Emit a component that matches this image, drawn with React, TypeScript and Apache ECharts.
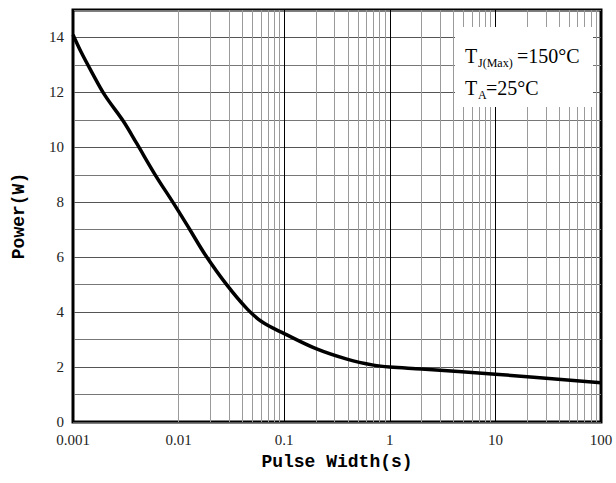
import React, { useEffect, useRef } from "react";
import * as echarts from "echarts";

const pulseWidth = [0.001, 0.0012, 0.0015, 0.002, 0.003, 0.004, 0.006, 0.009, 0.0128, 0.0178, 0.0285, 0.045, 0.063, 0.1, 0.2, 0.4, 0.7, 1, 2, 10, 100];
const power = [14.1, 13.45, 12.75, 11.9, 10.95, 10.15, 9.0, 7.95, 7.0, 6.1, 5.0, 4.1, 3.62, 3.22, 2.67, 2.28, 2.07, 2.0, 1.93, 1.74, 1.43];
const xTickLabels = ["0.001", "0.01", "0.1", "1", "10", "100"];
const minorMultipliers = [2, 3, 4, 5, 6, 7, 8, 9];
const decades = [0.001, 0.01, 0.1, 1, 10];

export default function App() {
  const ref = useRef<HTMLDivElement>(null);
  useEffect(() => {
    if (!ref.current) return;
    const chart = echarts.init(ref.current, null, { renderer: "svg" });
    const minorLines: any[] = [];
    decades.forEach((d) => minorMultipliers.forEach((m) => minorLines.push({ xAxis: +(d * m).toPrecision(3) })));
    const curve = pulseWidth.map((x, i) => [x, power[i]]);
    chart.setOption({
      animation: false,
      grid: { left: 73, right: 15, top: 10, bottom: 61, show: true, borderColor: "#000", borderWidth: 3, backgroundColor: "#fff" },
      xAxis: {
        type: "log",
        logBase: 10,
        min: 0.001,
        max: 100,
        name: "Pulse Width(s)",
        nameLocation: "middle",
        nameGap: 31,
        nameTextStyle: { fontFamily: "Liberation Mono", fontWeight: "bold", fontSize: 18, color: "#000" },
        axisLine: { show: false },
        axisTick: { show: false },
        axisLabel: {
          margin: 10,
          fontFamily: "Liberation Serif",
          fontSize: 15,
          color: "#222",
          formatter: (v: number) => xTickLabels[Math.round(Math.log10(v)) + 3] ?? "",
        },
        splitLine: { show: true, lineStyle: { color: "#000", width: 1 } },
      },
      yAxis: {
        type: "value",
        min: 0,
        max: 15,
        interval: 1,
        name: "Power(W)",
        nameLocation: "middle",
        nameRotate: 90,
        nameGap: 45,
        nameTextStyle: { fontFamily: "Liberation Mono", fontWeight: "bold", fontSize: 18, color: "#000" },
        axisLine: { show: false },
        axisTick: { show: false },
        axisLabel: {
          margin: 9,
          fontFamily: "Liberation Serif",
          fontSize: 15,
          color: "#222",
          formatter: (v: number) => (v % 2 === 0 && v < 15 ? String(v) : ""),
        },
        splitLine: { show: true, lineStyle: { color: ["#555", "#777"], width: 1 } },
      },
      series: [
        {
          type: "line",
          data: curve,
          z: 1,
          showSymbol: false,
          silent: true,
          lineStyle: { opacity: 0 },
          markLine: {
            silent: true,
            symbol: ["none", "none"],
            label: { show: false },
            lineStyle: { color: "#9a9a9a", width: 1, type: "solid" },
            data: minorLines,
          },
        },
        {
          type: "line",
          data: curve,
          z: 5,
          smooth: 0.35,
          showSymbol: false,
          lineStyle: { color: "#000", width: 3.5 },
        },
      ],
      graphic: [
        { type: "rect", z: 100, shape: { x: 455, y: 27, width: 138, height: 80 }, style: { fill: "#fff" } },
        { type: "text", z: 101, x: 465, y: 56, style: { text: "T", fontFamily: "Liberation Serif", fontSize: 20, fill: "#000", verticalAlign: "middle" } },
        { type: "text", z: 101, x: 478, y: 63, style: { text: "J(Max)", fontFamily: "Liberation Serif", fontSize: 12, fill: "#000", verticalAlign: "middle" } },
        { type: "text", z: 101, x: 517, y: 56, style: { text: "=150°C", fontFamily: "Liberation Serif", fontSize: 20, fill: "#000", verticalAlign: "middle" } },
        { type: "text", z: 101, x: 465, y: 88, style: { text: "T", fontFamily: "Liberation Serif", fontSize: 20, fill: "#000", verticalAlign: "middle" } },
        { type: "text", z: 101, x: 478, y: 95, style: { text: "A", fontFamily: "Liberation Serif", fontSize: 12, fill: "#000", verticalAlign: "middle" } },
        { type: "text", z: 101, x: 486, y: 88, style: { text: "=25°C", fontFamily: "Liberation Serif", fontSize: 20, fill: "#000", verticalAlign: "middle" } },
      ],
    });
    return () => chart.dispose();
  }, []);
  return <div ref={ref} style={{ position: "absolute", left: 0, top: 0, width: 616, height: 483 }} />;
}
